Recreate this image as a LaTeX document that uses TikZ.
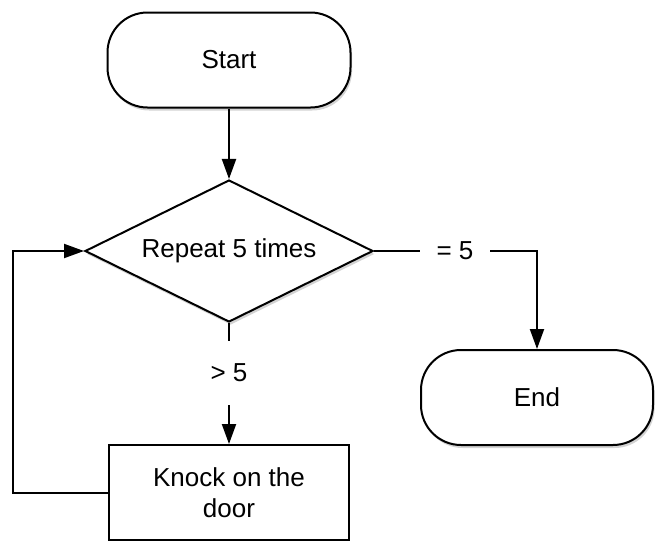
\documentclass[tikz,border=0pt]{standalone}
\usepackage{fontspec}
\setmainfont{Liberation Sans}
\usepackage{tikz}
\usetikzlibrary{shapes,calc,positioning,arrows.meta,shadows}

\begin{document}
\begin{tikzpicture}[x=0.5pt,y=-0.5pt,line width=1pt,font=\fontsize{13}{15.5}\selectfont,
  terminal/.style={shape=rectangle,draw,fill=white,rounded corners=20pt,minimum width=#1,minimum height=47.5pt,
    drop shadow={opacity=0.35,shadow xshift=0.8pt,shadow yshift=-1.5pt}},
  decision/.style={shape=diamond,draw,fill=white,inner sep=0pt,aspect=2.03,minimum width=144pt,minimum height=71pt,
    drop shadow={opacity=0.35,shadow xshift=0.8pt,shadow yshift=-1.5pt}},
  process/.style={shape=rectangle,draw,fill=white,minimum width=120pt,minimum height=47.5pt,align=center},
  guard/.style={inner sep=0pt},
  flow/.style={-{Triangle[length=10pt,width=7pt]}}]
\useasboundingbox (0,0) rectangle (655,542);
% nodes
\node[terminal=121.5pt] (start) at (229,60) {Start};
\node[decision] (repeat) at (229,251) {Repeat 5 times};
\node[terminal=116pt] (end) at (537,397.5) {End};
\node[process] (knock) at (229,492.5) {Knock on the\\door};
\node[guard,minimum width=34pt] (eq) at (455,251) {= 5};
\node[guard,minimum height=31pt] (gt) at (229,373) {> 5};
\coordinate (back) at (12.5,0);
% connectors
\draw[flow] (start) -- (repeat);
\draw (repeat.east) -- (eq.west);
\draw[flow] (eq.east) -| (end.north);
\draw (repeat.south) -- (gt.north);
\draw[flow] (gt.south) -- (knock.north);
\draw[flow] (knock.west) -- (knock.west -| back) |- (repeat.west);
\end{tikzpicture}
\end{document}
